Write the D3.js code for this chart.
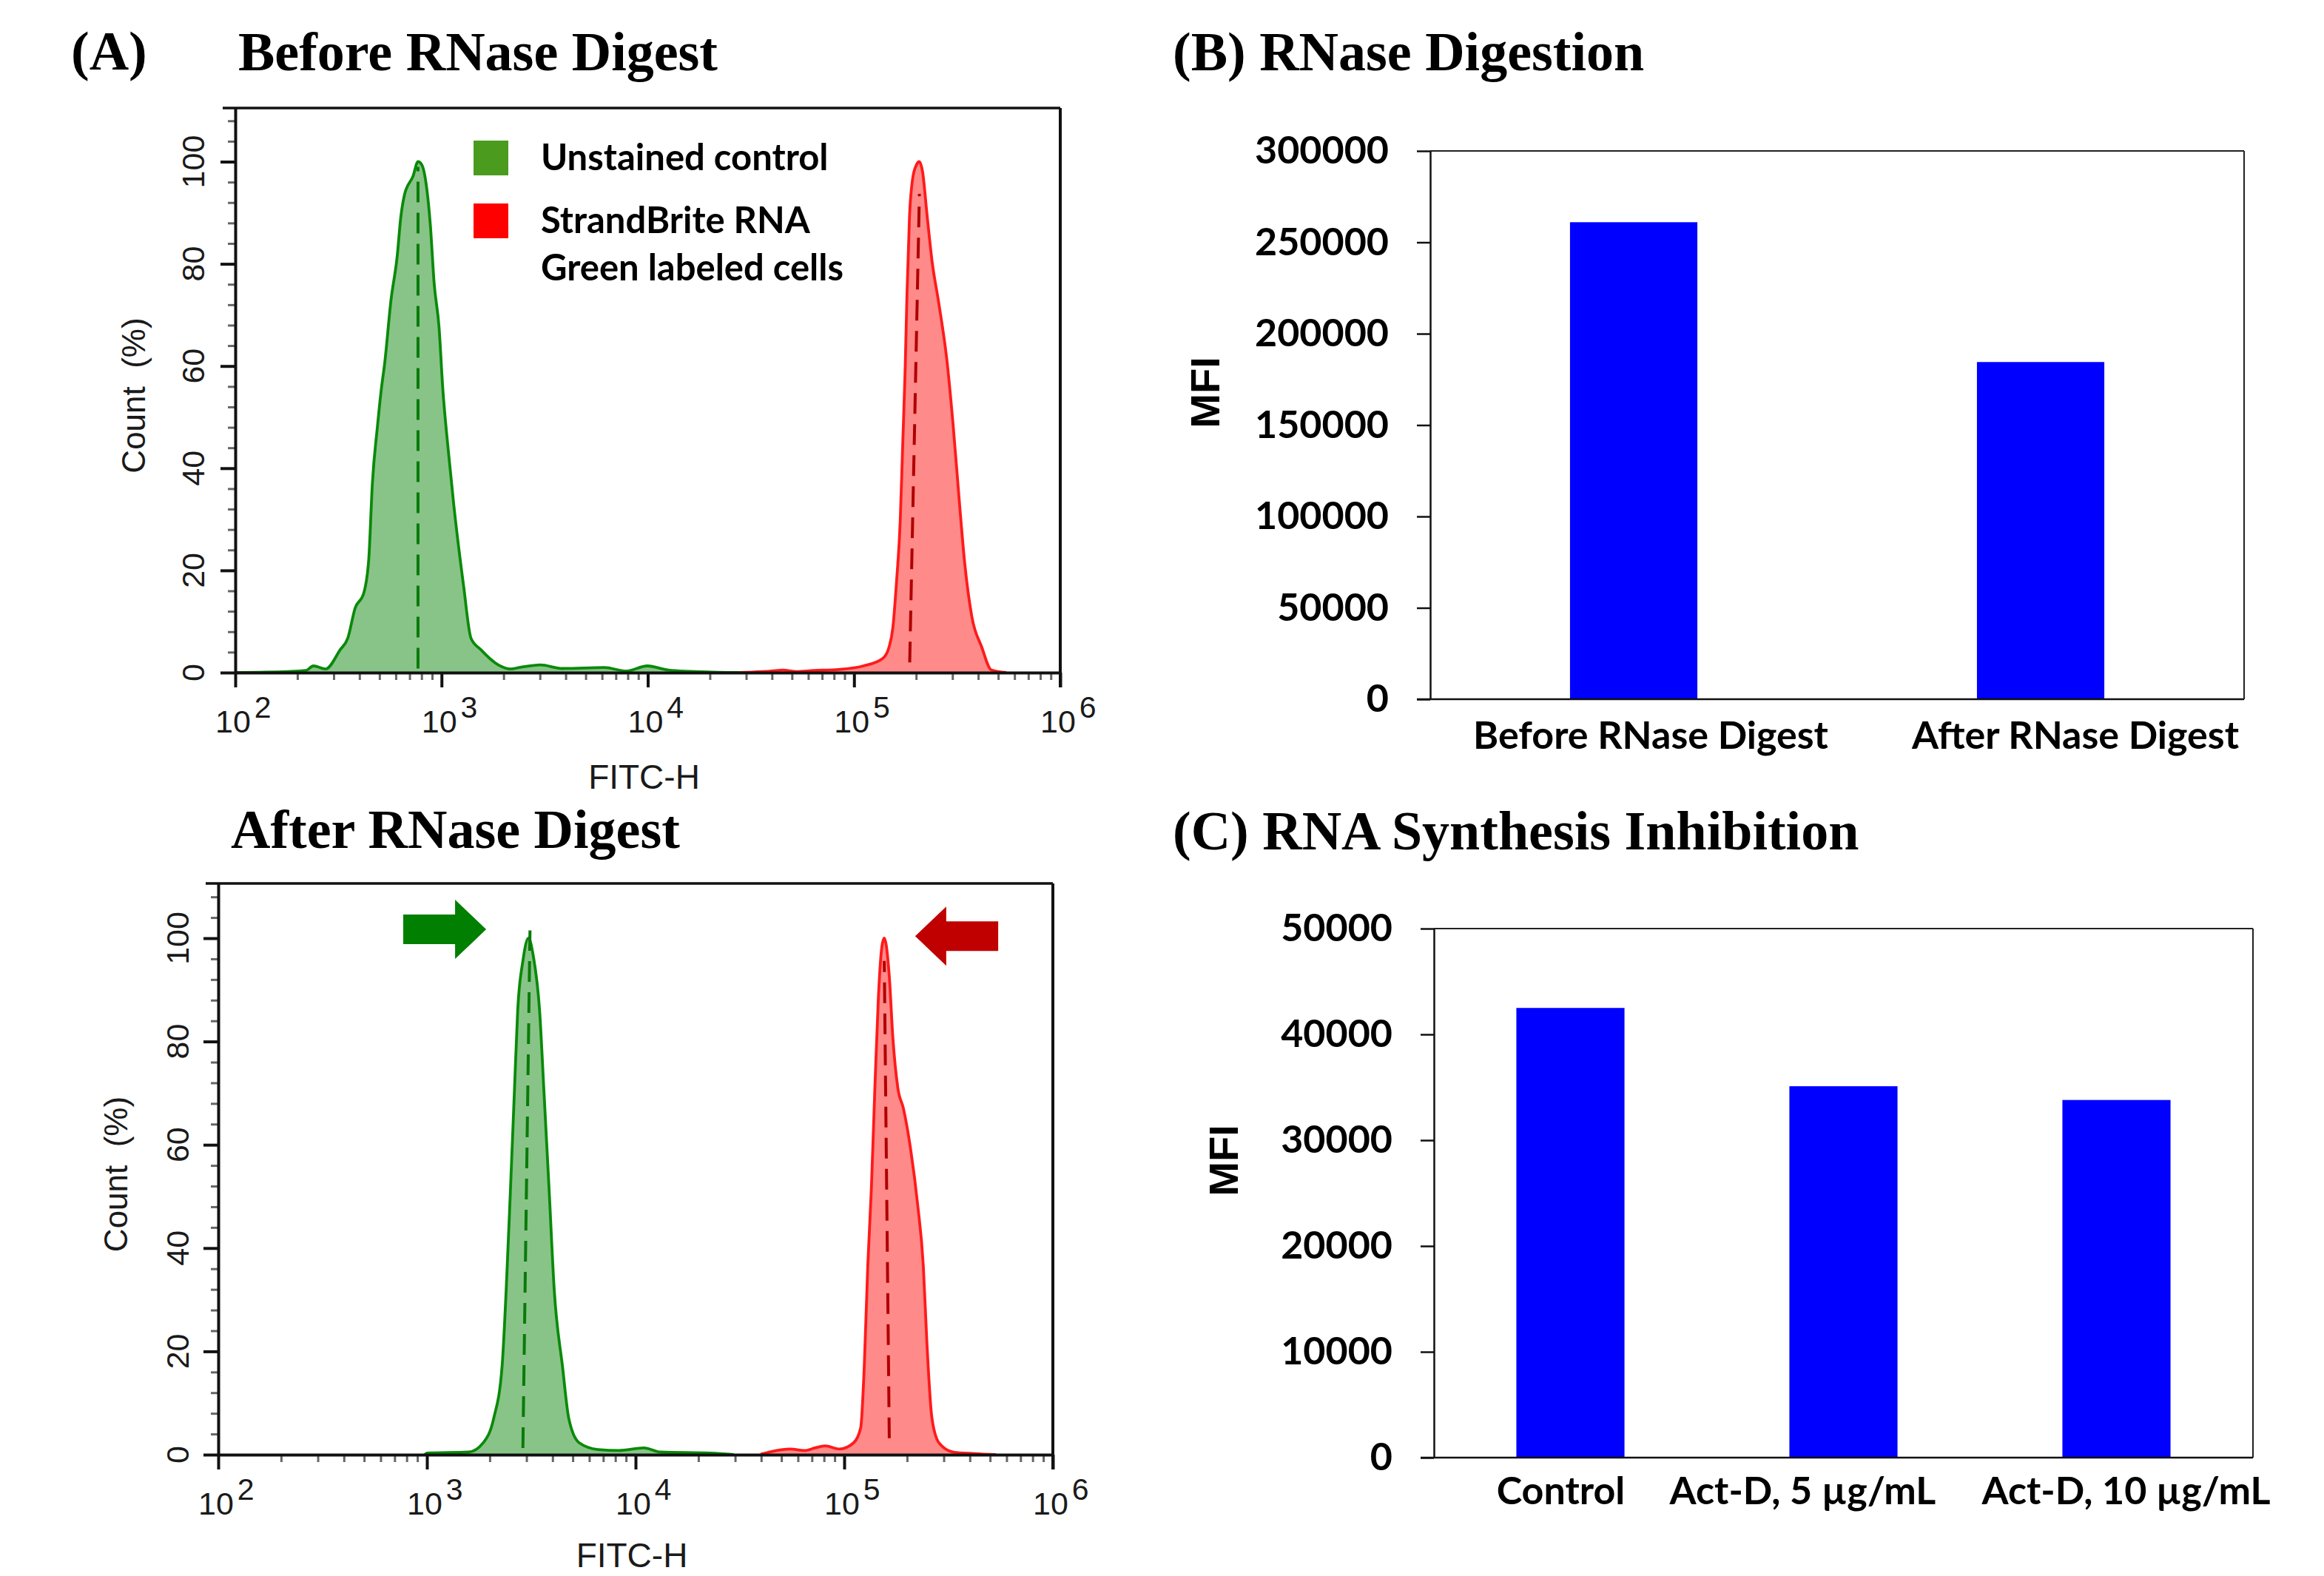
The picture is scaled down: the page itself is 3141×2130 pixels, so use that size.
<!DOCTYPE html>
<html>
<head>
<meta charset="utf-8">
<script src="https://cdn.jsdelivr.net/npm/d3@7"></script>
<style>
  body { margin: 0; background: #fff; }
  svg { display: block; }
</style>
</head>
<body>
<div class="container"></div>
<script>
const size = { width: 3141, height: 2130 };

// ---- (A) histograms: [FITC-H, count %] ----
const beforeUnstained = [
  [100,0],[180,0.2],[220,0.4],[239,1.3],[274,0.7],[323,4.5],[351,6.7],[381,12.6],[420,15.6],[444,22.3],
  [462,37],[489,48.2],[509,55],[531,60.8],[568,72.7],[610,81.6],[634,89],[661,93.5],[728,97.2],[769,100],
  [802,99.4],[847,94.9],[883,87.5],[920,76.4],[973,67.5],[1014,55.6],[1072,44.5],[1148,32.6],[1279,17],
  [1390,6.7],[1549,4.5],[1884,1.5],[2163,0.7],[2388,1.0],[3020,1.5],[3846,0.8],[6166,1.0],[7834,0.3],
  [9954,1.3],[12589,0.5],[20417,0.1],[30903,0]
];
const beforeStained = [
  [27990,0],[39811,0.3],[45186,0.5],[52481,0.2],[63826,0.4],[84140,0.6],[110917,1.3],[138038,2.8],
  [147911,5],[154170,8.7],[160694,17.7],[167494,29.6],[172187,44.5],[177011,59.4],[180717,74.3],
  [185780,89.2],[192309,96.6],[200447,99.3],[207491,100],[214783,98.1],[226464,89.2],[239332,80.3],
  [256448,72.8],[282488,60.9],[302691,48.2],[324340,33.3],[342768,22.1],[372392,11],[415911,5],
  [463447,0.5],[547016,0]
];
const afterUnstained = [
  [977,0],[1000,0.3],[1585,0.5],[1862,2.3],[2089,7],[2291,17],[2399,32],[2512,51],[2630,71],[2723,86],
  [2884,95.6],[3069,100],[3236,96.5],[3467,86],[3631,71],[3855,51],[4074,32],[4467,17],[4786,7],
  [5370,2.3],[6607,1],[8318,0.8],[10965,1.3],[13183,0.5],[22909,0.3],[29512,0]
];
const afterStained = [
  [39811,0.1],[54954,1.1],[64565,0.8],[72444,1.3],[81096,1.7],[94842,1.1],[110917,2.3],[119950,5.2],
  [124738,17],[129718,36.6],[134896,51.4],[140281,71],[145881,88.7],[151705,98.5],[155597,100],
  [164437,92.6],[171002,80.8],[180717,71],[192309,67],[207970,59.2],[224905,48.4],[239332,36.6],
  [248886,21.9],[263027,7.2],[284446,2.3],[333426,0.5],[421697,0.2],[533335,0]
];
// median markers (dashed)
const beforeUnstainedMedian = [[769,0.8],[769,99]];
const beforeStainedMedian = [[186209,2],[207491,93.7]];
const afterUnstainedMedian = [[2884,1.3],[3119,101.5]];
const afterStainedMedian = [[164437,3.2],[155597,95.6]];
// arrows after digest: [tail FITC, tip FITC, count]
const afterArrows = [[770,1923,101.7],[547000,218776,100.4]];

const fitcDecades = [1e2,1e3,1e4,1e5,1e6];
const fitcMinor = [2,3,4,5,6,7,8,9].flatMap(m => [1e2,1e3,1e4,1e5].map(d => m*d));
const countTicks = [0,20,40,60,80,100];
const countMinor = [4,8,12,16,24,28,32,36,44,48,52,56,64,68,72,76,84,88,92,96,104,108];
const legendLabels = [["Unstained control"],["StrandBrite RNA","Green labeled cells"]];

// ---- (B) RNase digestion ----
const digestCategories = ["Before RNase Digest","After RNase Digest"];
const digestMFI = [261000,184500];
const digestTicks = [0,50000,100000,150000,200000,250000,300000];

// ---- (C) RNA synthesis inhibition ----
const inhibitionCategories = ["Control","Act-D, 5 µg/mL","Act-D, 10 µg/mL"];
const inhibitionMFI = [42500,35100,33800];
const inhibitionTicks = [0,10000,20000,30000,40000,50000];

const svg = d3.select(".container")
  .append("svg")
  .attr("width", size.width)
  .attr("height", size.height);

const serif = "'Liberation Serif', 'Times New Roman', serif";
const sans = "'Liberation Sans', Arial, sans-serif";
const cal = "Lato, 'Open Sans', sans-serif";

const title = (x, y, t) => svg.append("text")
  .attr("x", x).attr("y", y)
  .attr("font-family", serif).attr("font-weight", "bold").attr("font-size", 74)
  .text(t);

title(96, 94, "(A)");
title(322, 95, "Before RNase Digest");
title(312, 1146, "After RNase Digest");
title(1585, 95, "(B) RNase Digestion");
title(1585, 1148, "(C) RNA Synthesis Inhibition");

const drawHistogram = (L, series, medians) => {
  const x = d3.scaleLog().domain([1e2, 1e6]).range([L.left, L.right]);
  const y = d3.scaleLinear().domain([0, L.yMax]).range([L.bottom, L.top]);
  const g = svg.append("g");

  const area = d3.area().x(d => x(d[0])).y0(y(0)).y1(d => y(d[1])).curve(d3.curveMonotoneX);
  const line = d3.line().x(d => x(d[0])).y(d => y(d[1])).curve(d3.curveMonotoneX);

  series.forEach(s => {
    g.append("path").attr("d", area(s.values)).attr("fill", s.fill);
    g.append("path").attr("d", line(s.values))
      .attr("fill", "none").attr("stroke", s.stroke)
      .attr("stroke-width", 3.8).attr("stroke-linejoin", "round");
  });
  medians.forEach(m => {
    g.append("path").attr("d", d3.line().x(d => x(d[0])).y(d => y(d[1]))(m.values))
      .attr("stroke", m.stroke).attr("stroke-width", 4)
      .attr("stroke-dasharray", "28,14").attr("fill", "none");
  });

  // frame top/right
  g.append("line").attr("x1", L.left - 17).attr("x2", L.right)
    .attr("y1", L.top).attr("y2", L.top).attr("stroke", "#111").attr("stroke-width", 3.5);
  g.append("line").attr("x1", L.right).attr("x2", L.right)
    .attr("y1", L.top).attr("y2", L.bottom + 20).attr("stroke", "#111").attr("stroke-width", 4);

  // minor ticks
  const xMinor = g.append("g").attr("transform", `translate(0,${L.bottom})`)
    .call(d3.axisBottom(x).tickValues(fitcMinor).tickSize(10).tickFormat(""));
  xMinor.select(".domain").remove();
  xMinor.selectAll("line").attr("stroke", "#666").attr("stroke-width", 3);
  const yMinor = g.append("g").attr("transform", `translate(${L.left},0)`)
    .call(d3.axisLeft(y).tickValues(countMinor).tickSize(10).tickFormat(""));
  yMinor.select(".domain").remove();
  yMinor.selectAll("line").attr("stroke", "#666").attr("stroke-width", 3);

  // major ticks + axis lines
  const xAxis = g.append("g").attr("transform", `translate(0,${L.bottom})`)
    .call(d3.axisBottom(x).tickValues(fitcDecades).tickSize(20).tickSizeOuter(0).tickFormat(""));
  xAxis.select(".domain").attr("stroke", "#111").attr("stroke-width", 4);
  xAxis.selectAll("line").attr("stroke", "#111").attr("stroke-width", 4);
  const yAxis = g.append("g").attr("transform", `translate(${L.left},0)`)
    .call(d3.axisLeft(y).tickValues(countTicks).tickSize(20).tickSizeOuter(0).tickFormat(""));
  yAxis.select(".domain").attr("stroke", "#111").attr("stroke-width", 4);
  yAxis.selectAll("line").attr("stroke", "#111").attr("stroke-width", 4);

  // x labels 10^n
  fitcDecades.forEach(v => {
    const t = g.append("text").attr("x", x(v) - 27).attr("y", L.bottom + 81)
      .attr("font-family", sans).attr("font-size", 43).attr("fill", "#1a1a1a");
    t.append("tspan").text("10");
    t.append("tspan").attr("dx", 5).attr("dy", -20).attr("font-size", 41).text(Math.round(Math.log10(v)));
  });
  // y labels, rotated
  countTicks.forEach(v => {
    g.append("text")
      .attr("transform", `translate(${L.left - L.labelGap},${y(v)}) rotate(-90)`)
      .attr("text-anchor", "middle")
      .attr("font-family", sans).attr("font-size", 43).attr("fill", "#1a1a1a")
      .text(v);
  });
  g.append("text")
    .attr("transform", `translate(${L.left - L.titleGap},${(L.top + L.bottom) / 2 + 7}) rotate(-90)`)
    .attr("text-anchor", "middle")
    .attr("font-family", sans).attr("font-size", 44).attr("fill", "#1a1a1a")
    .text("Count\u00a0\u00a0(%)");
  g.append("text")
    .attr("x", (L.left + L.right) / 2 - 5).attr("y", L.bottom + L.fitcDy)
    .attr("text-anchor", "middle")
    .attr("font-family", sans).attr("font-size", 46).attr("fill", "#1a1a1a")
    .text("FITC-H");

  return { g, x, y };
};

const greenFill = "#88c488", greenLine = "#0a8a0a", greenDash = "#0a7a0a";
const redFill = "#ff8a8a", redLine = "#ff1a1a", redDash = "#b00000";

const before = drawHistogram(
  { left: 318, right: 1433, top: 146, bottom: 909, yMax: 110.5, labelGap: 42, titleGap: 122, fitcDy: 157 },
  [{ values: beforeUnstained, fill: greenFill, stroke: greenLine },
   { values: beforeStained, fill: redFill, stroke: redLine }],
  [{ values: beforeUnstainedMedian, stroke: greenDash },
   { values: beforeStainedMedian, stroke: redDash }]
);

const after = drawHistogram(
  { left: 295, right: 1423, top: 1194, bottom: 1966, yMax: 110.6, labelGap: 40, titleGap: 123, fitcDy: 152 },
  [{ values: afterUnstained, fill: greenFill, stroke: greenLine },
   { values: afterStained, fill: redFill, stroke: redLine }],
  [{ values: afterUnstainedMedian, stroke: greenDash },
   { values: afterStainedMedian, stroke: redDash }]
);

// legend (before panel)
const legendColors = ["#4b9b1f", "#ff0000"];
const legendRows = [190, 275];
legendLabels.forEach((lines, i) => {
  before.g.append("rect").attr("x", 640).attr("y", legendRows[i])
    .attr("width", 47).attr("height", 47).attr("fill", legendColors[i]);
  lines.forEach((l, j) => {
    before.g.append("text").attr("x", 731).attr("y", legendRows[i] + 40 + j * 64)
      .attr("font-family", cal).attr("font-weight", "bold").attr("font-size", 49)
      .text(l);
  });
});

// arrows (after panel)
const arrowColors = ["#007f00", "#c00000"];
afterArrows.forEach((a, i) => {
  const x0 = after.x(a[0]), x1 = after.x(a[1]), yc = after.y(a[2]);
  const dir = Math.sign(x1 - x0), head = 42, body = 20, wing = 40;
  const xb = x1 - dir * head;
  const pts = [[x0, yc - body], [xb, yc - body], [xb, yc - wing], [x1, yc],
               [xb, yc + wing], [xb, yc + body], [x0, yc + body]];
  after.g.append("path").attr("d", d3.line()(pts) + "Z").attr("fill", arrowColors[i]);
});

const drawBars = (L, cats, vals, ticks, shifts) => {
  const x = d3.scaleBand().domain(cats).range([L.left, L.right])
    .paddingInner(L.pi).paddingOuter(L.po);
  const y = d3.scaleLinear().domain([0, ticks[ticks.length - 1]]).range([L.bottom, L.top]);
  const g = svg.append("g");

  g.selectAll("rect.bar").data(cats).enter().append("rect")
    .attr("class", "bar")
    .attr("x", d => x(d)).attr("width", x.bandwidth())
    .attr("y", (d, i) => y(vals[i])).attr("height", (d, i) => y(0) - y(vals[i]))
    .attr("fill", "#0000ff");

  g.append("line").attr("x1", L.left).attr("x2", L.right).attr("y1", L.top).attr("y2", L.top)
    .attr("stroke", "#222").attr("stroke-width", 2);
  g.append("line").attr("x1", L.right).attr("x2", L.right).attr("y1", L.top).attr("y2", L.bottom)
    .attr("stroke", "#222").attr("stroke-width", 2);

  const ax = g.append("g").attr("transform", `translate(${L.left},0)`)
    .call(d3.axisLeft(y).tickValues(ticks).tickSize(18).tickSizeOuter(0).tickPadding(38).tickFormat(d => d));
  ax.select(".domain").attr("stroke", "#111").attr("stroke-width", 2.5);
  ax.selectAll("line").attr("stroke", "#111").attr("stroke-width", 2.5);
  ax.selectAll("text").attr("font-family", cal).attr("font-weight", "bold")
    .attr("font-size", 52).attr("fill", "#000");

  g.append("line").attr("x1", L.left - 18).attr("x2", L.right).attr("y1", L.bottom).attr("y2", L.bottom)
    .attr("stroke", "#111").attr("stroke-width", 2.5);

  cats.forEach((c, i) => {
    g.append("text").attr("x", x(c) + x.bandwidth() / 2 + shifts[i]).attr("y", L.bottom + L.labelDy)
      .attr("text-anchor", "middle")
      .attr("font-family", cal).attr("font-weight", "bold").attr("font-size", 52)
      .text(c);
  });
  g.append("text")
    .attr("transform", `translate(${L.mfiX},${(L.top + L.bottom) / 2 - 44}) rotate(-90)`)
    .attr("text-anchor", "middle")
    .attr("font-family", sans).attr("font-weight", "bold").attr("font-size", 56)
    .text("MFI");
};

drawBars({ left: 1933, right: 3033, top: 204, bottom: 945, pi: 0.687, po: 0.3435, labelDy: 67, mfiX: 1648 },
  digestCategories, digestMFI, digestTicks, [23, 47]);
drawBars({ left: 1938, right: 3045, top: 1255, bottom: 1970, pi: 0.604, po: 0.302, labelDy: 63, mfiX: 1673 },
  inhibitionCategories, inhibitionMFI, inhibitionTicks, [-13, -55, 13]);
</script>
</body>
</html>
